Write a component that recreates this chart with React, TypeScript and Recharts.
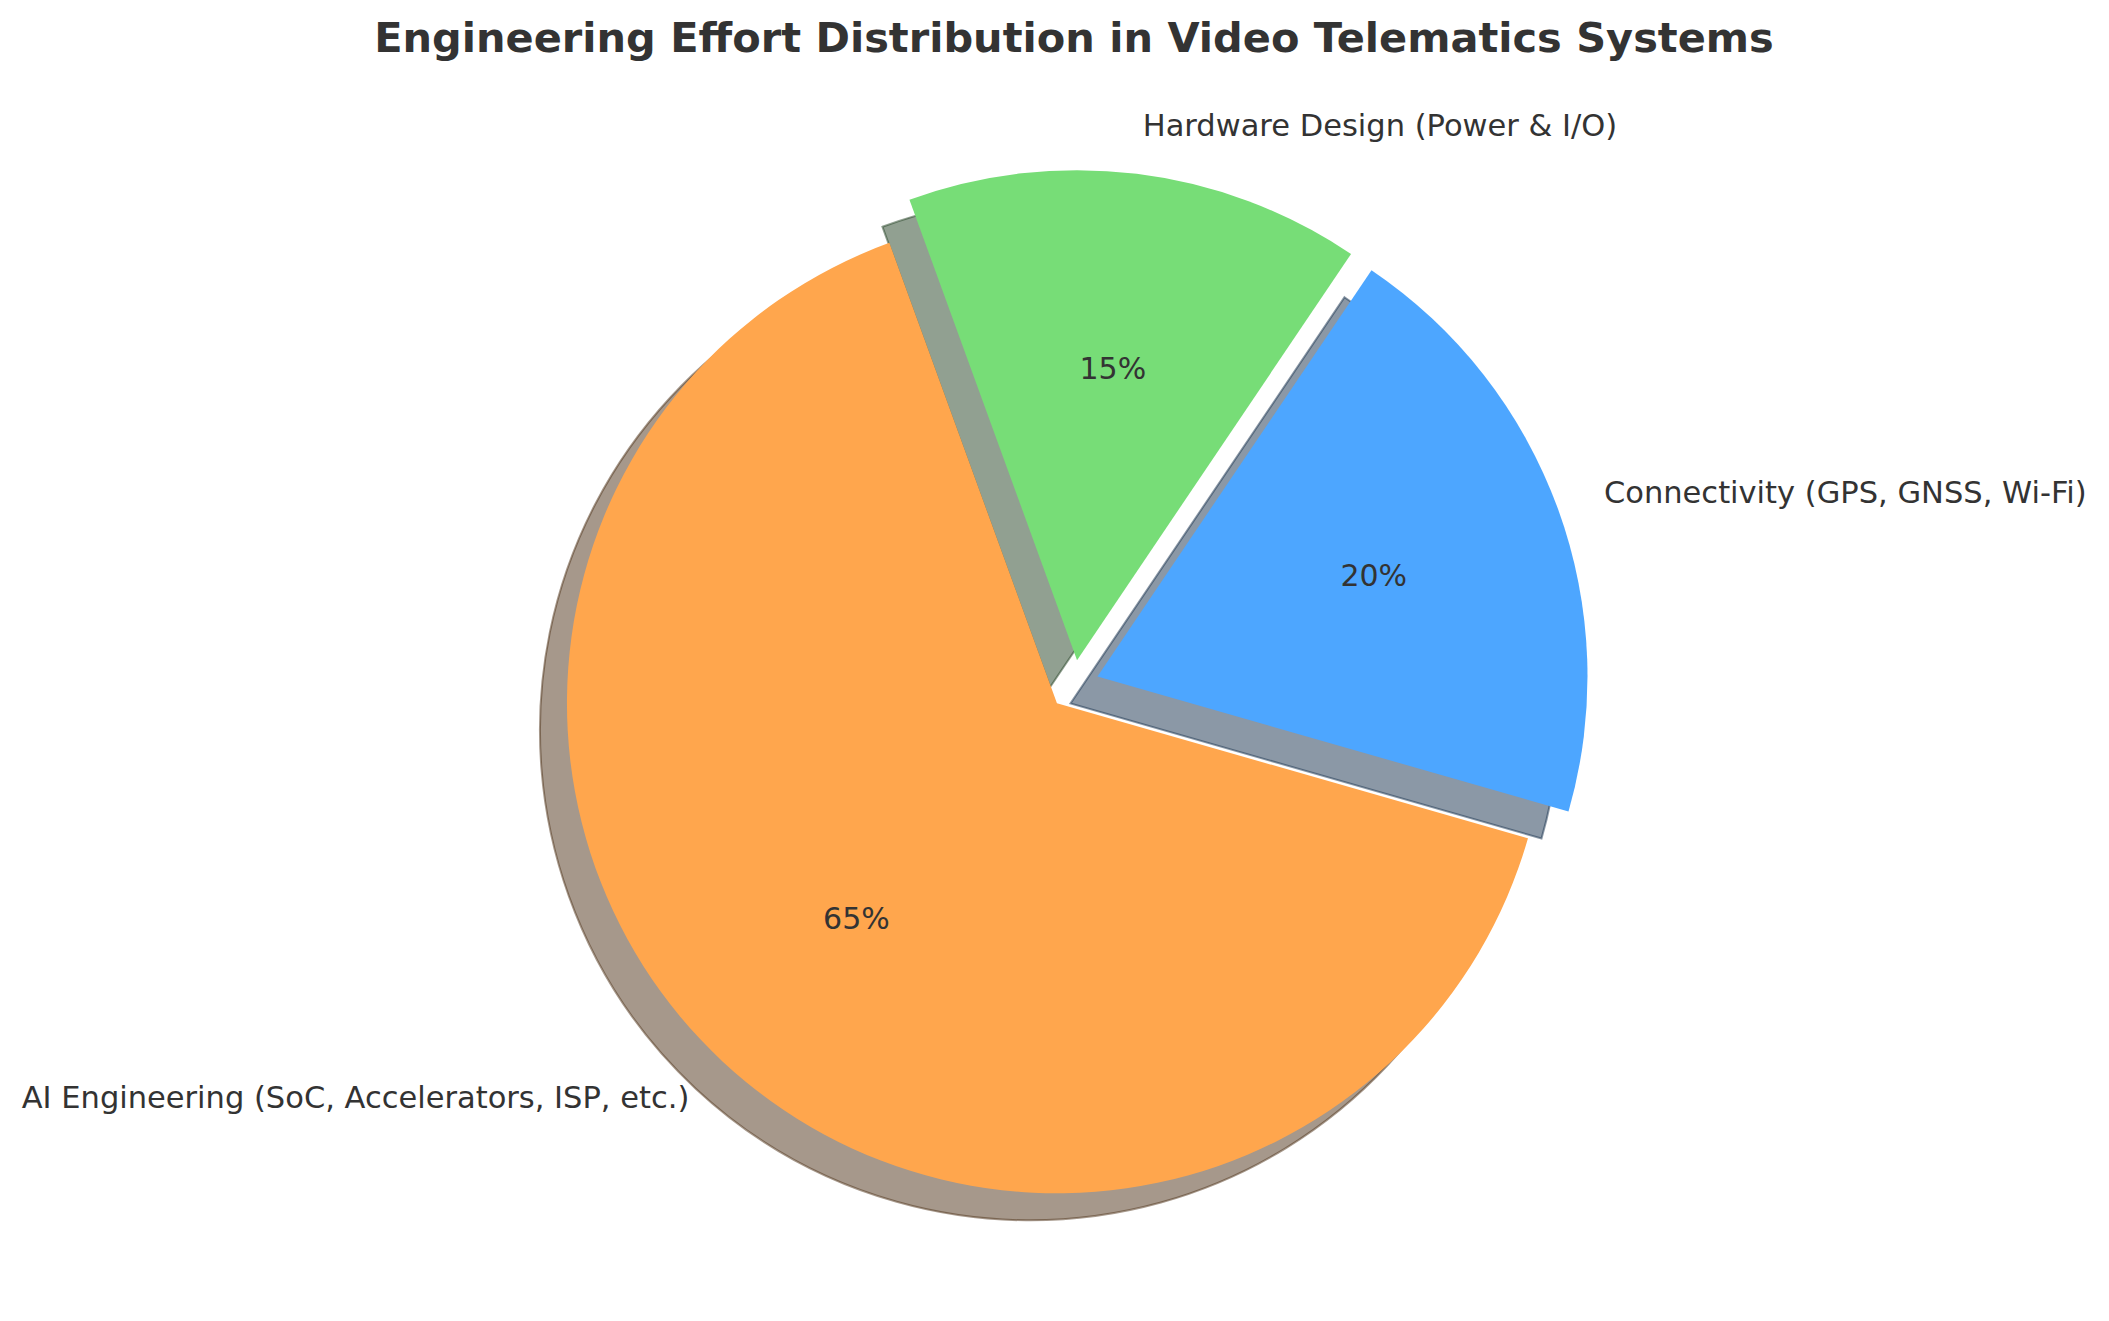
import React from 'react';
import { PieChart, Pie, Cell } from 'recharts';

// slice names, shares and colours
const labels = [
  'AI Engineering (SoC, Accelerators, ISP, etc.)',
  'Connectivity (GPS, GNSS, Wi-Fi)',
  'Hardware Design (Power & I/O)',
];
const shares = [65, 20, 15];
const colors = ['#FFA64D', '#4DA6FF', '#77DD77'];
const shadowColors = ['#4D3217', '#17324D', '#244224'];

const W = 2109;
const H = 1321;
const CX = 1074;
const CY = 685;
const R = 490;
const START = 110;
const EXPLODE = 25; // px offset of every wedge from the centre
const SHADOW_DX = -27;
const SHADOW_DY = 27;
const RAD = Math.PI / 180;
const FONT = '"DejaVu Sans", Verdana, sans-serif';

const data = labels.map((name, i) => ({ name, value: shares[i] }));
const total = shares.reduce((a, b) => a + b, 0);

// middle angle of each wedge, used for the explode offset
const midAngles = shares.map((v, i) => {
  const before = shares.slice(0, i).reduce((a, b) => a + b, 0);
  return START + (360 * (before + v / 2)) / total;
});

const centreOf = (i: number) => ({
  x: CX + EXPLODE * Math.cos(midAngles[i] * RAD),
  y: CY - EXPLODE * Math.sin(midAngles[i] * RAD),
});

const makeLabel = (slice: number) => (props: any) => {
  if (props.index !== slice) return null;
  const { cx, cy, midAngle, percent } = props;
  const cos = Math.cos(-midAngle * RAD);
  const sin = Math.sin(-midAngle * RAD);
  const lx = cx + R * 1.1 * cos;
  const ly = cy + R * 1.1 * sin;
  const px = cx + R * 0.6 * cos;
  const py = cy + R * 0.6 * sin;
  return (
    <g>
      <text
        x={lx}
        y={ly}
        textAnchor={cos >= 0 ? 'start' : 'end'}
        dominantBaseline="central"
        fill="#333333"
        fontSize={30.5}
        fontFamily={FONT}
      >
        {labels[slice]}
      </text>
      <text
        x={px}
        y={py}
        textAnchor="middle"
        dominantBaseline="central"
        fill="#333333"
        fontSize={30}
        fontFamily={FONT}
      >
        {`${Math.round(percent * 100)}%`}
      </text>
    </g>
  );
};

export default function App() {
  return (
    <div style={{ position: 'absolute', left: 0, top: 0, width: W, height: H, background: '#fff' }}>
      <div
        style={{
          position: 'absolute',
          left: 0,
          top: 13,
          width: CX * 2,
          textAlign: 'center',
          fontFamily: FONT,
          fontWeight: 'bold',
          fontSize: 41.5,
          color: '#333333',
          lineHeight: '50px',
        }}
      >
        Engineering Effort Distribution in Video Telematics Systems
      </div>
      <PieChart width={W} height={H} margin={{ top: 0, right: 0, bottom: 0, left: 0 }}>
        {/* shadows first */}
        {shares.map((_, s) => {
          const c = centreOf(s);
          return (
            <Pie
              key={`shadow-${s}`}
              data={data}
              dataKey="value"
              cx={c.x + SHADOW_DX}
              cy={c.y + SHADOW_DY}
              outerRadius={R}
              startAngle={START}
              endAngle={START + 360}
              label={false}
              labelLine={false}
              isAnimationActive={false}
            >
              {data.map((_, i) => (
                <Cell
                  key={i}
                  fill={i === s ? shadowColors[s] : 'none'}
                  fillOpacity={0.5}
                  stroke={i === s ? shadowColors[s] : 'none'}
                  strokeOpacity={0.5}
                  strokeWidth={2}
                />
              ))}
            </Pie>
          );
        })}
        {/* wedges */}
        {shares.map((_, s) => {
          const c = centreOf(s);
          return (
            <Pie
              key={`wedge-${s}`}
              data={data}
              dataKey="value"
              cx={c.x}
              cy={c.y}
              outerRadius={R}
              startAngle={START}
              endAngle={START + 360}
              label={makeLabel(s)}
              labelLine={false}
              isAnimationActive={false}
            >
              {data.map((_, i) => (
                <Cell key={i} fill={i === s ? colors[s] : 'none'} stroke="none" />
              ))}
            </Pie>
          );
        })}
      </PieChart>
    </div>
  );
}
